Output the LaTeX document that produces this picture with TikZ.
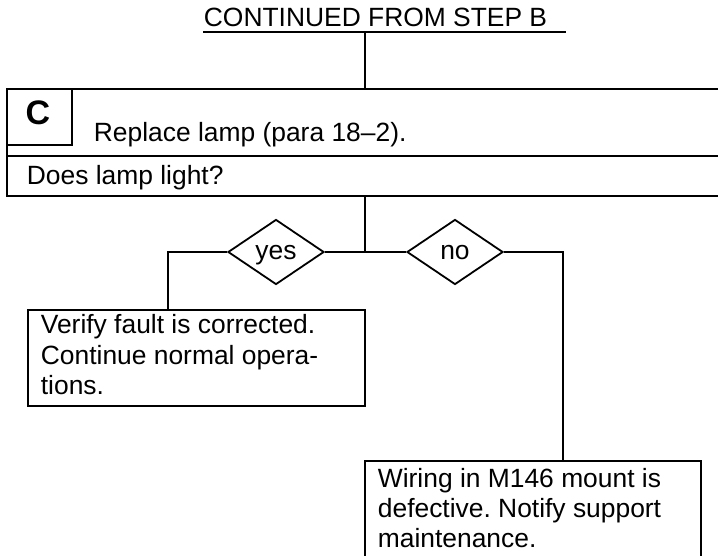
\documentclass[tikz,border=0pt]{standalone}
\usepackage{fontspec}
\setmainfont{Liberation Sans}
\usetikzlibrary{shapes.geometric}
\frenchspacing
\begin{document}
\begin{tikzpicture}[x=1pt,y=-1pt,
  line width=1.8pt,
  txt/.style={inner sep=0pt, anchor=base west, font=\fontsize{26.4}{30}\selectfont},
  boxframe/.style={draw, rectangle, inner sep=0pt},
  choice/.style={draw, diamond, inner sep=0pt, minimum width=96pt, minimum height=65pt,
    text height=16pt, text depth=0pt, font=\fontsize{26.4}{30}\selectfont}
]
\clip (0,0) rectangle (718,556);
\fill[white] (0,0) rectangle (718,556);

% title
\node[txt] (title) at (203,27) {CONTINUED FROM STEP B};
\coordinate (ulL) at (203,32);
\coordinate (ulR) at (566,32);
\coordinate (top) at (365,32);
\draw (ulL) -- (ulR);

% step C block
\node[boxframe, minimum width=723pt, minimum height=67pt] (rowA) at (368.5,122.5) {};
\node[boxframe, minimum width=723pt, minimum height=40pt] (rowB) at (368.5,176) {};
\node[boxframe, minimum width=65pt, minimum height=56pt] (cbox) at (39.5,117) {};
\node[inner sep=0pt, anchor=base, font=\bfseries\fontsize{34}{36}\selectfont] (cletter) at (38,125) {C};
\node[txt] (replace) at (93,142) {Replace lamp (para 18--2).};
\node[txt] (question) at (26,185) {Does lamp light?};

\draw (top) -- (top |- rowA.north);

% decision
\coordinate (J) at (365,252);
\node[choice] (yes) at (276,252) {yes};
\node[choice] (no) at (455,252) {no};
\draw (J |- rowB.south) -- (J);
\draw (yes.east) -- (J) -- (no.west);

% outcome boxes
\node[boxframe, minimum width=337pt, minimum height=96pt] (verify) at (196.5,358) {};
\node[txt] (v1) at (40,334) {Verify fault is corrected.};
\node[txt] (v2) at (40,364) {Continue normal opera-};
\node[txt] (v3) at (40,394) {tions.};

\node[boxframe, minimum width=336pt, minimum height=120pt] (wiring) at (533,521) {};
\node[txt] (w1) at (377,487) {Wiring in M146 mount is};
\node[txt] (w2) at (377,517) {defective. Notify support};
\node[txt] (w3) at (377,547) {maintenance.};

\coordinate (vin) at (168,310);
\coordinate (win) at (563,461);
\draw (yes.west) -| (vin);
\draw (no.east) -| (win);
\end{tikzpicture}
\end{document}
